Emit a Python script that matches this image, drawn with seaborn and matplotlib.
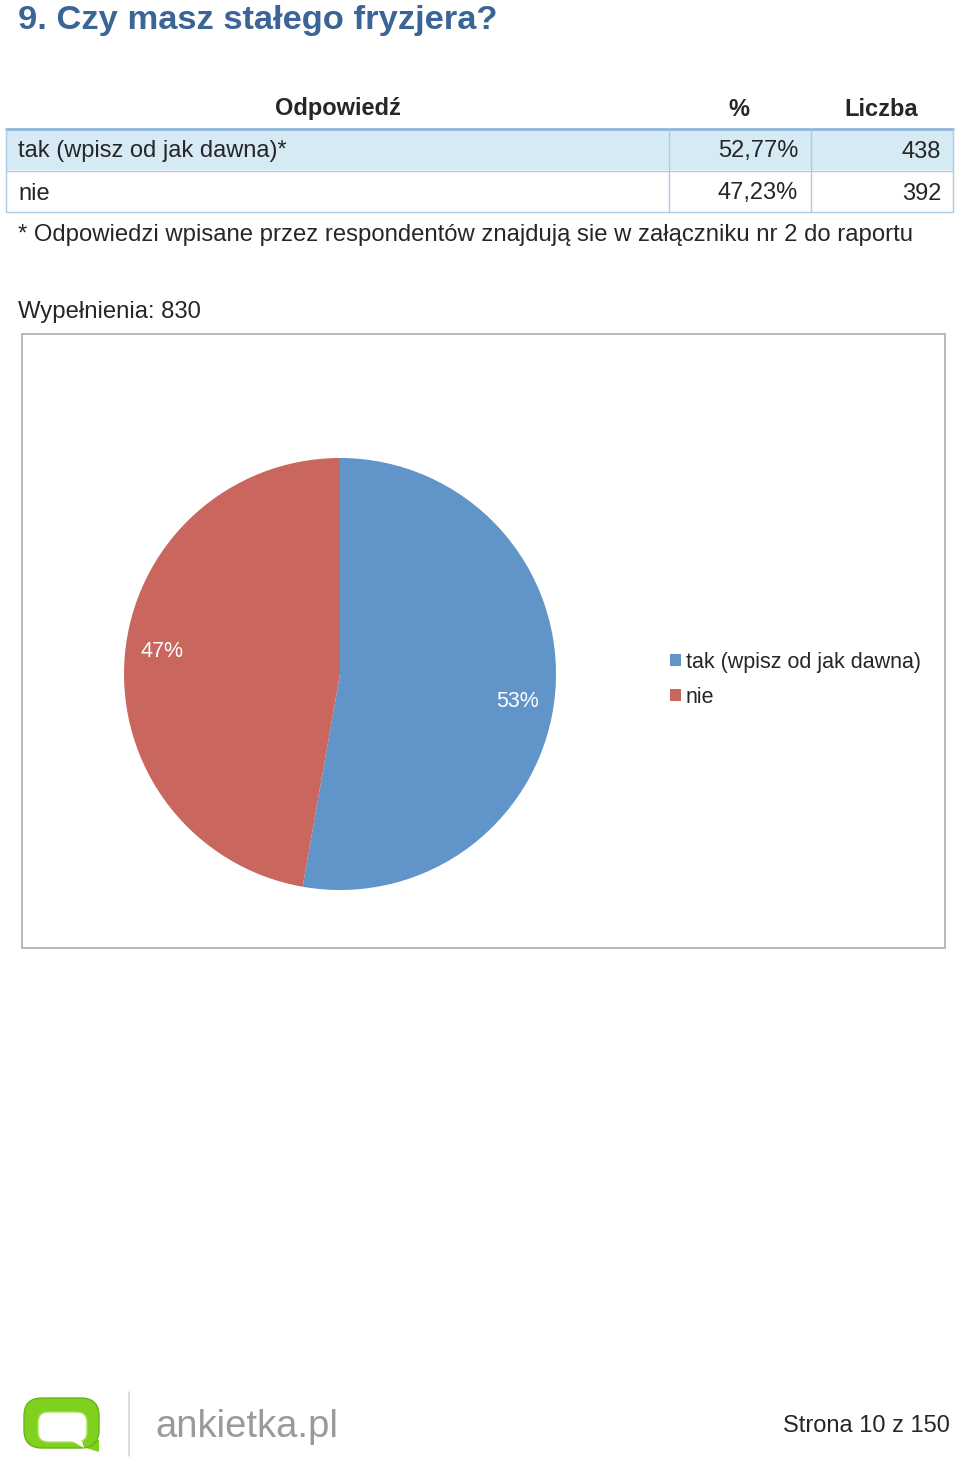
import matplotlib
matplotlib.use("Agg")
import numpy as np
import matplotlib.pyplot as plt
from matplotlib.patches import Rectangle, FancyBboxPatch, Polygon
import seaborn as sns

# data
answers = ['tak (wpisz od jak dawna)', 'nie']
percents = [52.77, 47.23]
counts = [438, 392]
total = 830
colors = ['#6194c8', '#c9665e']

W, H = 960, 1460

sns.set_theme(style='white')
plt.rcParams['font.family'] = ['Liberation Sans', 'DejaVu Sans']

fig = plt.figure(figsize=(W / 100, H / 100), dpi=100)
fig.patch.set_facecolor('white')

# background axes in pixel coordinates (y down)
bg = fig.add_axes([0, 0, 1, 1])
bg.set_xlim(0, W)
bg.set_ylim(H, 0)
bg.axis('off')

bg.text(18, 20, '9. Czy masz stałego fryzjera?', fontsize=24.8, fontweight='bold',
        color='#3b6597', va='center', ha='left')

# table
grid_c = '#a9cbe4'
bg.text(338, 109, 'Odpowiedź', fontsize=17, fontweight='bold', ha='center', va='center')
bg.text(739, 109, '%', fontsize=17, fontweight='bold', ha='center', va='center')
bg.text(881, 109, 'Liczba', fontsize=17, fontweight='bold', ha='center', va='center')

row_top = [129, 171]
row_h = 41
for i, (a, p, c) in enumerate(zip(answers, percents, counts)):
    y0 = row_top[i]
    fc = '#d5eaf4' if i == 0 else 'white'
    bg.add_patch(Rectangle((6, y0), 947, row_h, facecolor=fc, edgecolor='none'))
    label = a + '*' if i == 0 else a
    yc = y0 + row_h / 2 + 2
    bg.text(18, yc, label, fontsize=17, ha='left', va='center')
    bg.text(798, yc, f'{p:.2f}%'.replace('.', ','), fontsize=17, ha='right', va='center')
    bg.text(941, yc, str(c), fontsize=17, ha='right', va='center')

# grid lines
bg.plot([6, 953], [128.5, 128.5], color='#8db6d6', lw=2)
bg.plot([6, 953], [170.5, 170.5], color=grid_c, lw=1)
bg.plot([6, 953], [212, 212], color=grid_c, lw=1)
for x in [6, 668.5, 810.5, 953]:
    bg.plot([x, x], [129, 212], color=grid_c, lw=1)

bg.text(18, 235, '* Odpowiedzi wpisane przez respondentów znajdują sie w załączniku nr 2 do raportu',
        fontsize=17.2, ha='left', va='center')
bg.text(18, 312, f'Wypełnienia: {total}', fontsize=17.2, ha='left', va='center')

# chart frame
bg.add_patch(Rectangle((22, 334), 923, 614, facecolor='white', edgecolor='#b3b3b3', lw=1.3))

# footer logo
green = '#80d020'
bg.add_patch(Polygon([[60, 1440], [99, 1440], [99, 1452]], closed=True,
                     facecolor=green, edgecolor='none'))
bg.add_patch(FancyBboxPatch((24, 1398), 75, 50, boxstyle='round,pad=0,rounding_size=18',
                            facecolor=green, edgecolor='#66b514', lw=1))
bg.add_patch(FancyBboxPatch((38, 1412), 49, 30, boxstyle='round,pad=0,rounding_size=10',
                            facecolor='white', edgecolor='#a8e060', lw=1))
bg.add_patch(Polygon([[72, 1441], [82, 1441], [84, 1448]], closed=True,
                     facecolor='white', edgecolor='none'))
bg.plot([129, 129], [1392, 1456], color='#d6d6d6', lw=1.2)
bg.text(155, 1427, 'ankietka.pl', fontsize=27.5, color='#9a9a9a', ha='left', va='center')
bg.text(950, 1426, 'Strona 10 z 150', fontsize=17, ha='right', va='center')

# pie
cx, cy, r = 340, 674, 216
ax = fig.add_axes([(cx - r) / W, 1 - (cy + r) / H, 2 * r / W, 2 * r / H])
wedges, _ = ax.pie(counts, colors=colors, startangle=90, counterclock=False,
                   radius=1, wedgeprops=dict(linewidth=0))
for w, p in zip(wedges, percents):
    mid = np.deg2rad((w.theta1 + w.theta2) / 2 - 3)
    ax.text(0.83 * np.cos(mid), 0.83 * np.sin(mid) - 0.01, f'{p:.0f}%', color='white',
            fontsize=15.5, ha='center', va='center')
ax.set_xlim(-1, 1)
ax.set_ylim(-1, 1)
ax.set_aspect('equal')
ax.axis('off')

fig.legend(wedges, answers, loc='upper left', bbox_to_anchor=(661 / W, 1 - 643 / H),
           frameon=False, fontsize=15.5, handlelength=0.55, handleheight=0.55,
           handletextpad=0.2, labelspacing=0.65, borderaxespad=0)

fig.savefig('out.png', dpi=100, facecolor='white')
